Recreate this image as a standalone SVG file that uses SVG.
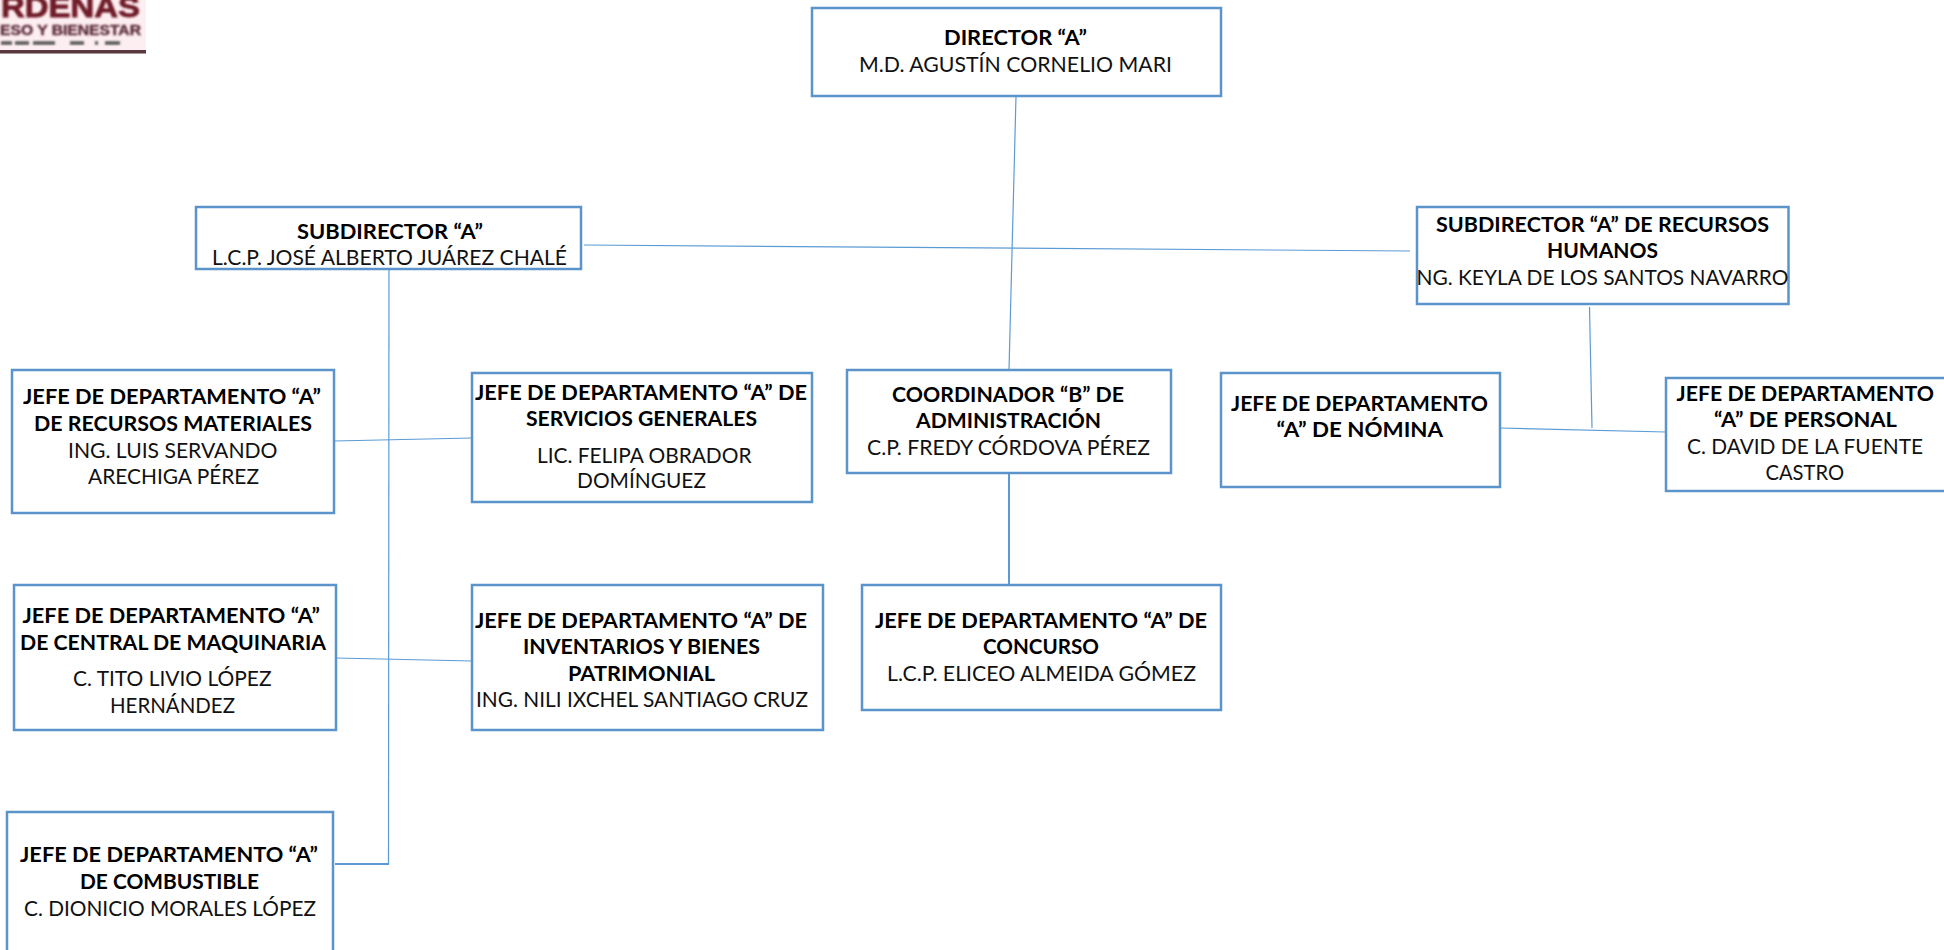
<svg xmlns="http://www.w3.org/2000/svg" width="1944" height="950" viewBox="0 0 1944 950">
<style>
.box{fill:#fff;stroke:#5b94cb;stroke-width:2.5}
.t{font-family:"Lato","Open Sans",sans-serif;font-size:21px;fill:#111}
.b{font-weight:700;fill:#000}
.c{fill:none;stroke:#5b9bd5;stroke-width:1.2}
.c2{fill:none;stroke:#5b9bd5;stroke-width:2}
.lg{font-family:"Liberation Sans",sans-serif;font-weight:700;fill:#6e1a26;stroke:#6e1a26;stroke-width:0.8}
</style>
<defs><filter id="blur" x="-5%" y="-5%" width="110%" height="110%"><feGaussianBlur stdDeviation="0.8"/></filter></defs>
<rect width="1944" height="950" fill="#fff"/>
<g id="logo">
<rect x="0" y="0" width="146" height="54" fill="#fdeef1"/>
<g filter="url(#blur)">
<text class="lg" x="1" y="17" font-size="30" textLength="139" lengthAdjust="spacingAndGlyphs">RDENAS</text>
<text class="lg" x="0" y="35" font-size="15" textLength="141" lengthAdjust="spacingAndGlyphs" style="fill:#5a2a3a;stroke:#5a2a3a;stroke-width:0.4">ESO Y BIENESTAR</text>
<path d="M1 43h11M15 43h14M33 43h22M70 43h14M95 43h3M105 43h15" stroke="#555" stroke-width="3.500" fill="none"/>
</g>
<rect x="0" y="50" width="146" height="3.500" fill="#5a3a40"/>
</g>
<g id="connectors">
<path class="c" d="M1016 96L1009 370"/>
<path class="c" d="M584 245L1410 251"/>
<path class="c" d="M389 269L388.500 865"/>
<path class="c" d="M334 441L472 438"/>
<path class="c" d="M336 658L472 661"/>
<path class="c2" d="M335 864H389"/>
<path class="c2" d="M1009 473V587"/>
<path class="c" d="M1589.500 307L1592 428"/>
<path class="c" d="M1500 428L1666 432"/>
</g>
<g id="director"><rect class="box" x="812" y="8" width="409" height="88"/>
<text class="t b" x="944" y="45" textLength="143" lengthAdjust="spacingAndGlyphs">DIRECTOR “A”</text>
<text class="t" x="859" y="72" textLength="313" lengthAdjust="spacingAndGlyphs">M.D. AGUSTÍN CORNELIO MARI</text></g>
<g id="subdirector"><rect class="box" x="196" y="207" width="385" height="62"/>
<text class="t b" x="297" y="239" textLength="186" lengthAdjust="spacingAndGlyphs">SUBDIRECTOR “A”</text>
<text class="t" x="212" y="265" textLength="355" lengthAdjust="spacingAndGlyphs">L.C.P. JOSÉ ALBERTO JUÁREZ CHALÉ</text></g>
<g id="subdirector-rh"><rect class="box" x="1417" y="207" width="371.500" height="97"/>
<text class="t b" x="1436" y="232" textLength="333" lengthAdjust="spacingAndGlyphs">SUBDIRECTOR “A” DE RECURSOS</text>
<text class="t b" x="1547" y="258" textLength="111" lengthAdjust="spacingAndGlyphs">HUMANOS</text>
<text class="t" x="1416.500" y="285" textLength="372" lengthAdjust="spacingAndGlyphs">NG. KEYLA DE LOS SANTOS NAVARRO</text></g>
<g id="recursos-materiales"><rect class="box" x="12" y="370" width="322" height="143"/>
<text class="t b" x="23" y="404" textLength="298" lengthAdjust="spacingAndGlyphs">JEFE DE DEPARTAMENTO “A”</text>
<text class="t b" x="34" y="431" textLength="278" lengthAdjust="spacingAndGlyphs">DE RECURSOS MATERIALES</text>
<text class="t" x="68" y="458" textLength="209.500" lengthAdjust="spacingAndGlyphs">ING. LUIS SERVANDO</text>
<text class="t" x="88" y="484" textLength="171" lengthAdjust="spacingAndGlyphs">ARECHIGA PÉREZ</text></g>
<g id="servicios-generales"><rect class="box" x="472" y="373" width="340" height="129"/>
<text class="t b" x="475" y="400" textLength="332" lengthAdjust="spacingAndGlyphs">JEFE DE DEPARTAMENTO “A” DE</text>
<text class="t b" x="526" y="426" textLength="231" lengthAdjust="spacingAndGlyphs">SERVICIOS GENERALES</text>
<text class="t" x="537" y="463" textLength="214.500" lengthAdjust="spacingAndGlyphs">LIC. FELIPA OBRADOR</text>
<text class="t" x="577" y="488" textLength="129" lengthAdjust="spacingAndGlyphs">DOMÍNGUEZ</text></g>
<g id="coordinador"><rect class="box" x="847" y="370" width="324" height="103"/>
<text class="t b" x="892" y="402" textLength="232" lengthAdjust="spacingAndGlyphs">COORDINADOR “B” DE</text>
<text class="t b" x="916" y="428" textLength="185" lengthAdjust="spacingAndGlyphs">ADMINISTRACIÓN</text>
<text class="t" x="867" y="455" textLength="283" lengthAdjust="spacingAndGlyphs">C.P. FREDY CÓRDOVA PÉREZ</text></g>
<g id="nomina"><rect class="box" x="1221" y="373" width="279" height="114"/>
<text class="t b" x="1231" y="411" textLength="257" lengthAdjust="spacingAndGlyphs">JEFE DE DEPARTAMENTO</text>
<text class="t b" x="1276.500" y="437" textLength="166.500" lengthAdjust="spacingAndGlyphs">“A” DE NÓMINA</text></g>
<g id="personal"><rect class="box" x="1666" y="378" width="280" height="113"/>
<text class="t b" x="1676.500" y="401" textLength="257.500" lengthAdjust="spacingAndGlyphs">JEFE DE DEPARTAMENTO</text>
<text class="t b" x="1714" y="427" textLength="183" lengthAdjust="spacingAndGlyphs">“A” DE PERSONAL</text>
<text class="t" x="1687" y="454" textLength="236" lengthAdjust="spacingAndGlyphs">C. DAVID DE LA FUENTE</text>
<text class="t" x="1765.500" y="480" textLength="78.500" lengthAdjust="spacingAndGlyphs">CASTRO</text></g>
<g id="central-maquinaria"><rect class="box" x="14" y="585" width="322" height="145"/>
<text class="t b" x="22.500" y="623" textLength="297.500" lengthAdjust="spacingAndGlyphs">JEFE DE DEPARTAMENTO “A”</text>
<text class="t b" x="20" y="650" textLength="306" lengthAdjust="spacingAndGlyphs">DE CENTRAL DE MAQUINARIA</text>
<text class="t" x="73" y="686" textLength="198.500" lengthAdjust="spacingAndGlyphs">C. TITO LIVIO LÓPEZ</text>
<text class="t" x="110" y="713" textLength="125" lengthAdjust="spacingAndGlyphs">HERNÁNDEZ</text></g>
<g id="inventarios"><rect class="box" x="472" y="585" width="351" height="145"/>
<text class="t b" x="475" y="628" textLength="332" lengthAdjust="spacingAndGlyphs">JEFE DE DEPARTAMENTO “A” DE</text>
<text class="t b" x="523" y="654" textLength="237" lengthAdjust="spacingAndGlyphs">INVENTARIOS Y BIENES</text>
<text class="t b" x="568" y="681" textLength="147" lengthAdjust="spacingAndGlyphs">PATRIMONIAL</text>
<text class="t" x="476" y="707" textLength="332" lengthAdjust="spacingAndGlyphs">ING. NILI IXCHEL SANTIAGO CRUZ</text></g>
<g id="concurso"><rect class="box" x="862" y="585" width="359" height="125"/>
<text class="t b" x="875" y="628" textLength="332" lengthAdjust="spacingAndGlyphs">JEFE DE DEPARTAMENTO “A” DE</text>
<text class="t b" x="983" y="654" textLength="116" lengthAdjust="spacingAndGlyphs">CONCURSO</text>
<text class="t" x="887" y="681" textLength="309" lengthAdjust="spacingAndGlyphs">L.C.P. ELICEO ALMEIDA GÓMEZ</text></g>
<g id="combustible"><rect class="box" x="7" y="812" width="326" height="145"/>
<text class="t b" x="20" y="862" textLength="298" lengthAdjust="spacingAndGlyphs">JEFE DE DEPARTAMENTO “A”</text>
<text class="t b" x="80" y="889" textLength="179" lengthAdjust="spacingAndGlyphs">DE COMBUSTIBLE</text>
<text class="t" x="24" y="916" textLength="292" lengthAdjust="spacingAndGlyphs">C. DIONICIO MORALES LÓPEZ</text></g>
</svg>
